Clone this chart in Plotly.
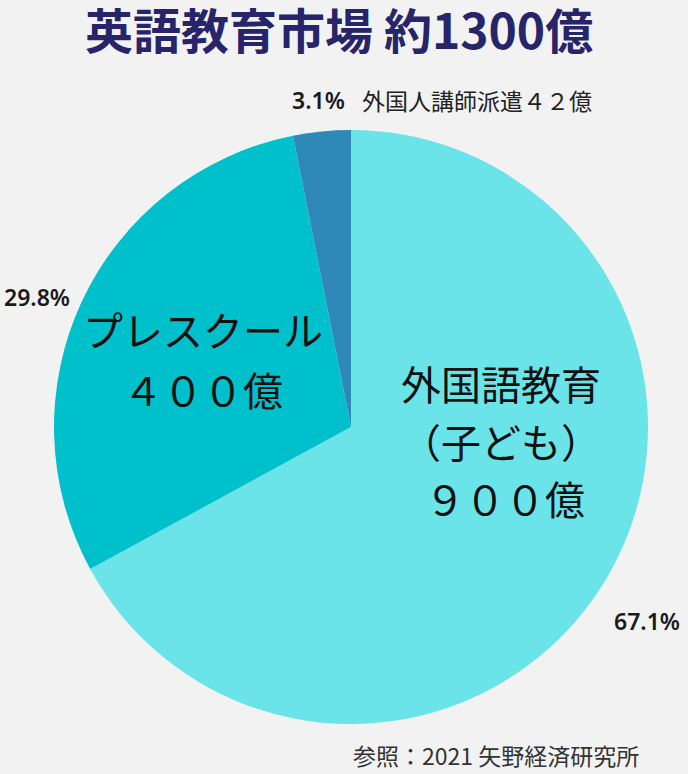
import plotly.graph_objects as go

categories = ["外国語教育（子ども）", "プレスクール", "外国人講師派遣"]
values = [900, 400, 42]
slice_label_lines = [["外国語教育", "（子ども）", "９００億"], ["プレスクール", "４００億"], ["外国人講師派遣４２億"]]
colors = ["#6ae4e8", "#00c1cb", "#2e89b8"]

total = sum(values)
pcts = [f"{v / total * 100:.1f}%" for v in values]

W, H = 688, 774


def px(x, y):
    return x / W, 1 - y / H


dom_x = [(351 - 297) / W, (351 + 297) / W]
dom_y = [1 - 724 / H, 1 - 130 / H]

fig = go.Figure()
fig.add_trace(go.Pie(
    labels=categories, values=values, sort=False, direction="clockwise", rotation=0,
    marker=dict(colors=colors, line=dict(width=0)),
    textinfo="none", automargin=False, showlegend=False,
    hoverinfo="label+value+percent",
    domain=dict(x=dom_x, y=dom_y),
))

anns = []
# inside labels: one annotation per line (pixel positions)
inside_pos = [[(501, 383), (501, 441), (505, 498)], [(203, 329), (203, 389)]]
for lines, poss in zip(slice_label_lines[:2], inside_pos):
    for line, (x, y) in zip(lines, poss):
        ax, ay = px(x, y)
        anns.append(dict(text=line, x=ax, y=ay, xref="paper", yref="paper",
                         xanchor="center", yanchor="middle", showarrow=False,
                         font=dict(family="Noto Sans CJK JP", size=40, color="#111111")))

# percentage labels
pct_pos = [(612, 621, "left"), (2, 297, "left"), (290, 100, "left")]
for p, (x, y, anc) in zip(pcts, pct_pos):
    ax, ay = px(x, y)
    anns.append(dict(text=p, x=ax, y=ay, xref="paper", yref="paper",
                     xanchor=anc, yanchor="middle", showarrow=False,
                     font=dict(family="Noto Sans", size=23, color="#1a1a1a", weight=600)))

# small-slice name
ax, ay = px(360, 100)
anns.append(dict(text=slice_label_lines[2][0], x=ax, y=ay, xref="paper", yref="paper",
                 xanchor="left", yanchor="middle", showarrow=False,
                 font=dict(family="Noto Sans CJK JP", size=23, color="#222222")))

# title
ax, ay = px(339, 28)
anns.append(dict(text="<b>英語教育市場 約1300億</b>", x=ax, y=ay, xref="paper", yref="paper",
                 xanchor="center", yanchor="middle", showarrow=False,
                 font=dict(family="Noto Sans CJK JP", size=48, color="#27246a")))

# source
ax, ay = px(641, 755)
anns.append(dict(text="参照：2021 矢野経済研究所", x=ax, y=ay, xref="paper", yref="paper",
                 xanchor="right", yanchor="middle", showarrow=False,
                 font=dict(family="Noto Sans CJK JP", size=23, color="#333333")))

fig.update_layout(
    width=W, height=H,
    margin=dict(l=0, r=0, t=0, b=0),
    paper_bgcolor="#f2f2f2", plot_bgcolor="#f2f2f2",
    annotations=anns,
)
fig.write_html("out.html")
